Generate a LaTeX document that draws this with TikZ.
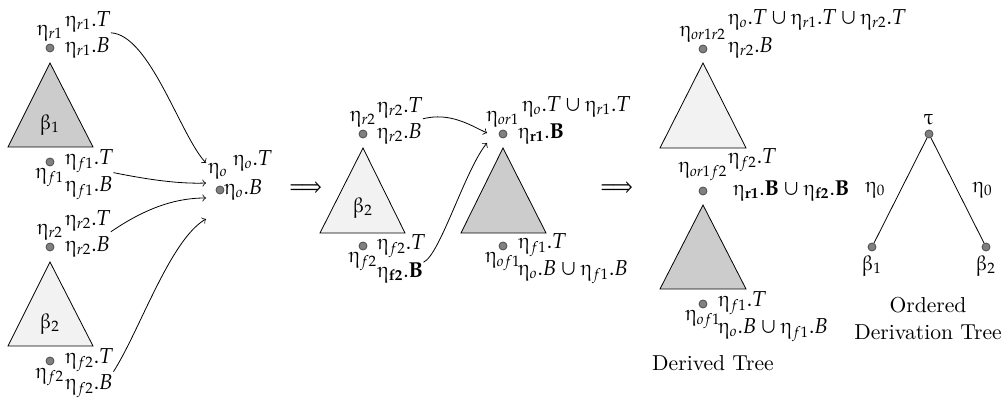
\documentclass[tikz,border=0pt]{standalone}
\usepackage{amsmath}
\usepackage{pxfonts}
\usepackage{tikz}
\usetikzlibrary{calc, positioning}

\begin{document}
\begin{tikzpicture}[x=0.5pt, y=-0.5pt,
    every node/.style={font=\fontsize{10.8}{13.5}\selectfont},
    dot/.style={circle, draw=black!70, fill=gray, inner sep=0pt, minimum size=4pt},
    lbl/.style={inner sep=0pt},
    trilight/.style={draw, fill=gray!10},
    tridark/.style={draw, fill=gray!40}]
    \useasboundingbox (0,0) rectangle (1006,399);

    % 1. Cây beta_1 và beta_2 bên trái
    \filldraw[tridark] (50,63) -- (93,147) -- (8,147) -- cycle;
    \node[lbl] (b1) at (50,125) {$\betaup_1$};
    \node[dot] (r1) at (50,48) {};
    \node[lbl, above=1pt of r1] (r1n) {$\etaup_{r1}$};
    \node[lbl, anchor=west] (r1T) at (65,22) {$\etaup_{r1}.T$};
    \node[lbl, anchor=west] (r1B) at (65,48) {$\etaup_{r1}.B$};
    \node[dot] (f1) at (50,162) {};
    \node[lbl, below=1pt of f1] (f1n) {$\etaup_{f1}$};
    \node[lbl, anchor=west] (f1T) at (65,161) {$\etaup_{f1}.T$};
    \node[lbl, anchor=west] (f1B) at (65,188) {$\etaup_{f1}.B$};

    \filldraw[trilight] (50,262) -- (93,346) -- (8,346) -- cycle;
    \node[lbl] (b2) at (50,324) {$\betaup_2$};
    \node[dot] (r2) at (50,247) {};
    \node[lbl, above=1pt of r2] (r2n) {$\etaup_{r2}$};
    \node[lbl, anchor=west] (r2T) at (65,221) {$\etaup_{r2}.T$};
    \node[lbl, anchor=west] (r2B) at (65,247) {$\etaup_{r2}.B$};
    \node[dot] (f2) at (50,361) {};
    \node[lbl, below=1pt of f2] (f2n) {$\etaup_{f2}$};
    \node[lbl, anchor=west] (f2T) at (65,360) {$\etaup_{f2}.T$};
    \node[lbl, anchor=west] (f2B) at (65,386) {$\etaup_{f2}.B$};

    % 2. Nút eta_o và các mũi tên
    \node[dot] (o) at (220,190) {};
    \node[lbl, above=3pt of o, xshift=-1pt] (on) {$\etaup_o$};
    \node[lbl, anchor=west] (oT) at (233,161) {$\etaup_o.T$};
    \node[lbl, anchor=west] (oB) at (224,190) {$\etaup_o.B$};
    \coordinate (oin1) at (206,163);
    \coordinate (oin2) at (206,183);
    \coordinate (oin3) at (206,198);
    \coordinate (oin4) at (206,219);
    \draw[->] (r1T.south east) .. controls (150,35) and (180,135) .. (oin1);
    \draw[->] (f1T.south east) .. controls (150,180) and (180,184) .. (oin2);
    \draw[->] (r2T.south east) .. controls (150,205) and (180,198) .. (oin3);
    \draw[->] (f2T.south east) .. controls (140,330) and (170,240) .. (oin4);

    \node (imp1) at (306,189) {$\Longrightarrow$};

    % 3. Bước giữa
    \filldraw[trilight] (363,148) -- (405,233) -- (320,233) -- cycle;
    \node[lbl] (mb2) at (363,208) {$\betaup_2$};
    \node[dot] (mr2) at (363,134) {};
    \node[lbl, above=1pt of mr2] (mr2n) {$\etaup_{r2}$};
    \node[lbl, anchor=west] (mr2T) at (377,108) {$\etaup_{r2}.T$};
    \node[lbl, anchor=west] (mr2B) at (377,134) {$\etaup_{r2}.B$};
    \node[dot] (mf2) at (363,246) {};
    \node[lbl, below=1pt of mf2] (mf2n) {$\etaup_{f2}$};
    \node[lbl, anchor=west] (mf2T) at (377,246) {$\etaup_{f2}.T$};
    \node[lbl, anchor=west] (mf2B) at (377,273) {$\etaup_{\mathbf{f2}}.\mathbf{B}$};

    \filldraw[tridark] (503,148) -- (546,233) -- (461,233) -- cycle;
    \node[dot] (or1) at (503,134) {};
    \node[lbl, above=1pt of or1] (or1n) {$\etaup_{or1}$};
    \node[lbl, anchor=west] (or1T) at (522,107) {$\etaup_o.T \cup \etaup_{r1}.T$};
    \node[lbl, anchor=west] (or1B) at (518,134) {$\etaup_{\mathbf{r1}}.\mathbf{B}$};
    \node[dot] (of1) at (503,246) {};
    \node[lbl, below=1pt of of1] (of1n) {$\etaup_{of1}$};
    \node[lbl, anchor=west] (of1T) at (518,245) {$\etaup_{f1}.T$};
    \node[lbl, anchor=west] (of1B) at (518,272) {$\etaup_o.B \cup \etaup_{f1}.B$};
    \coordinate (or1in1) at (487,133);
    \coordinate (or1in2) at (487,143);
    \draw[->] (mr2T.south east) .. controls (450,112) and (470,125) .. (or1in1);
    \draw[->] (mf2B.north east) .. controls (440,255) and (465,170) .. (or1in2);

    \node (imp2) at (617,189) {$\Longrightarrow$};

    % 4. Cây dẫn xuất
    \filldraw[trilight] (703,63) -- (746,148) -- (660,148) -- cycle;
    \node[dot] (dr) at (703,49) {};
    \node[lbl, above=1pt of dr] (drn) {$\etaup_{or1r2}$};
    \node[lbl, anchor=west] (drT) at (728,20) {$\etaup_o.T \cup \etaup_{r1}.T \cup \etaup_{r2}.T$};
    \node[lbl, anchor=west] (drB) at (728,48) {$\etaup_{r2}.B$};
    \node[dot] (dm) at (703,191) {};
    \node[lbl, above=3pt of dm] (dmn) {$\etaup_{or1f2}$};
    \node[lbl, anchor=west] (dmT) at (728,160) {$\etaup_{f2}.T$};
    \node[lbl, anchor=west] (dmB) at (733,191) {$\etaup_{\mathbf{r1}}.\mathbf{B} \cup \etaup_{\mathbf{f2}}.\mathbf{B}$};
    \filldraw[tridark] (703,205) -- (746,289) -- (660,289) -- cycle;
    \node[dot] (df) at (703,304) {};
    \node[lbl, below=1pt of df] (dfn) {$\etaup_{of1}$};
    \node[lbl, anchor=west] (dfT) at (718,303) {$\etaup_{f1}.T$};
    \node[lbl, anchor=west] (dfB) at (718,330) {$\etaup_o.B \cup \etaup_{f1}.B$};
    \node (dcap) at (713,363) {Derived Tree};

    % 5. Cây dẫn xuất có thứ tự
    \node[dot] (tau) at (929,134) {};
    \node[lbl, above=2pt of tau] (taun) {$\tauup$};
    \node[dot] (t1) at (872,247) {};
    \node[lbl, below=2pt of t1] (t1n) {$\betaup_1$};
    \node[dot] (t2) at (986,247) {};
    \node[lbl, below=2pt of t2] (t2n) {$\betaup_2$};
    \draw (tau) -- node[left=4pt] (e1) {$\etaup_0$} (t1);
    \draw (tau) -- node[right=4pt] (e2) {$\etaup_0$} (t2);
    \node[align=center] (ocap) at (928,319) {Ordered\\Derivation Tree};
\end{tikzpicture}
\end{document}
